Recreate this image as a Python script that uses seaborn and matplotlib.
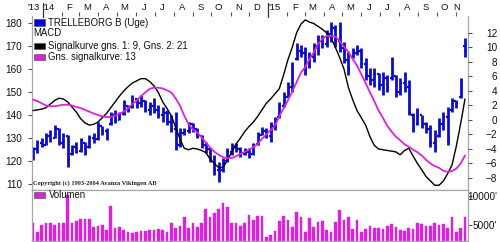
import numpy as np
import pandas as pd
import matplotlib
matplotlib.use("Agg")
import matplotlib.pyplot as plt
import matplotlib.transforms as mtrans
from matplotlib.patches import Rectangle
import seaborn as sns

sns.set_style("white")
plt.rcParams['font.family'] = ['Liberation Sans', 'DejaVu Sans']

# ---------------- data (weekly bars) ----------------
first_week = "2013-12-16"

highs = [126.1, 129.0, 130.0, 132.0, 133.5, 135.7, 134.3, 132.2, 131.3, 127.0,
         128.3, 130.0, 128.3, 131.3, 132.2, 137.0, 135.2, 134.3, 141.3, 142.2,
         141.3, 146.5, 144.3, 148.7, 147.4, 148.7, 146.5, 145.6, 147.4, 144.3,
         143.5, 142.2, 140.0, 141.3, 134.3, 134.3, 137.0, 136.5, 134.3, 131.3,
         128.3, 125.7, 122.6, 119.6, 121.3, 125.7, 127.8, 127.8, 126.1, 125.7,
         125.7, 127.8, 132.6, 134.8, 134.3, 137.0, 139.1, 145.6, 150.0, 154.3,
         163.0, 171.3, 170.4, 169.6, 167.4, 171.3, 174.8, 174.8, 177.0, 180.4,
         179.0, 180.4, 171.7, 167.4, 169.0, 170.4, 169.0, 164.8, 160.4, 160.4,
         158.3, 158.7, 157.4, 165.2, 157.4, 156.1, 158.7, 155.2, 140.9, 143.0,
         140.0, 137.0, 135.7, 133.5, 138.7, 141.3, 143.5, 147.4, 146.5, 156.0,
         173.5]
lows = [120.4, 123.5, 126.0, 127.0, 128.3, 130.0, 127.0, 125.7, 117.4, 122.6,
        123.5, 124.0, 122.6, 125.7, 127.8, 129.1, 131.3, 129.1, 135.7, 136.5,
        137.8, 140.0, 141.3, 143.0, 143.0, 143.5, 141.3, 140.0, 140.9, 138.7,
        137.0, 135.7, 132.6, 124.8, 126.0, 131.3, 132.2, 132.6, 130.0, 125.7,
        123.5, 119.6, 113.9, 110.9, 115.2, 119.6, 122.6, 123.9, 121.7, 122.6,
        121.3, 122.6, 127.0, 131.3, 130.0, 128.3, 133.5, 138.7, 143.5, 147.8,
        150.0, 164.0, 165.2, 157.4, 160.4, 163.0, 166.1, 169.1, 169.6, 171.7,
        169.6, 167.4, 162.6, 157.4, 164.8, 166.0, 160.4, 155.2, 153.0, 152.2,
        150.9, 148.7, 150.0, 155.2, 147.8, 148.7, 150.0, 140.0, 132.6, 135.7,
        134.3, 132.2, 126.0, 124.0, 130.4, 133.5, 127.0, 141.3, 143.0, 147.4,
        165.2]
opens = [121, 125, 128, 127, 131, 130, 134, 128, 131, 123,
         126, 124.5, 128, 126, 130, 129.5, 135, 133, 136, 140,
         138, 140.5, 144, 143.5, 147, 145, 146, 142, 144, 142,
         140, 141, 137, 134, 127, 132, 133, 136, 134, 131,
         127, 125, 121, 116, 116, 120, 124, 126, 125, 123,
         124, 123, 127.5, 131.5, 133, 131, 135, 139, 144, 148,
         152, 164.5, 168, 167, 161, 165, 170, 172, 171, 175,
         178, 172, 169, 164, 165, 167, 168, 162, 157, 155,
         158, 153, 156, 156, 157, 150, 154, 152, 140, 136,
         140, 136, 134, 128, 131, 136, 139, 142, 146, 148,
         170]
closes = [125, 128, 127, 131, 130, 134, 128, 131, 121, 126,
          124, 129, 124, 130, 129, 135, 133, 131, 140, 138,
          140, 145, 142, 147, 145, 147, 142, 144, 142, 140,
          141, 137, 134, 127, 132, 133, 136, 134, 131, 127,
          125, 121, 116, 114, 119, 124, 126, 125, 123, 124,
          122, 127, 131, 133, 131, 135, 138, 144, 148, 152,
          161, 168, 167, 160, 165, 170, 172, 171, 175, 178,
          172, 169, 164, 160, 167, 168, 162, 157, 155, 158,
          153, 156, 152, 158, 150, 154, 152, 141, 135, 140,
          136, 134, 128, 126, 136, 139, 130, 146, 145, 154,
          168]
macd = [1.3, 1.4, 1.5, 1.7, 2.2, 2.7, 3.0, 2.9, 2.5, 1.8,
        1.1, 0.2, -0.4, -0.7, -0.6, -0.3, 0.3, 0.9, 1.7, 2.5,
        3.3, 4.0, 4.6, 5.1, 5.4, 5.7, 5.7, 5.3, 4.7, 3.8,
        2.5, 1.6, 0.6, -1.0, -2.6, -3.9, -4.1, -3.9, -4.0, -4.2,
        -4.5, -5.4, -6.0, -6.6, -6.5, -5.6, -4.4, -3.3, -2.5, -1.6,
        -0.9, -0.3, 0.5, 1.4, 2.3, 2.9, 3.6, 4.3, 6.2, 8.3,
        10.0, 12.0, 13.2, 13.8, 13.5, 13.3, 12.9, 12.5, 12.0, 11.3,
        10.0, 8.6, 7.0, 4.5, 2.8, 1.3, 0.3, -0.7, -2.3, -3.5,
        -4.0, -4.1, -4.2, -4.3, -4.4, -4.8, -4.2, -3.9, -5.0, -6.0,
        -6.9, -7.8, -8.4, -9.0, -9.0, -8.4, -7.4, -6.2, -3.6, -0.5,
        2.9]
signal = [2.8, 2.6, 2.3, 2.0, 1.9, 1.9, 2.0, 2.1, 2.1, 2.0,
          1.8, 1.65, 1.4, 1.15, 0.9, 0.7, 0.5, 0.4, 0.45, 0.6,
          0.85, 1.15, 1.6, 2.2, 2.7, 3.3, 3.8, 4.3, 4.45, 4.45,
          4.35, 4.1, 3.8, 3.0, 2.0, 0.6, -0.6, -1.3, -1.7, -2.4,
          -3.1, -3.8, -4.4, -4.8, -5.15, -5.25, -5.25, -5.0, -4.7, -4.4,
          -4.1, -3.75, -3.3, -2.6, -2.0, -1.4, -0.8, 0.5, 1.6, 2.7,
          3.9, 5.2, 6.5, 7.3, 8.4, 9.3, 10.5, 11.2, 11.6, 11.6,
          11.5, 10.9, 10.1, 9.4, 8.4, 7.5, 6.3, 5.1, 3.8, 2.6,
          1.3, 0.3, -0.8, -1.6, -2.3, -2.8, -3.35, -3.7, -4.1, -4.45,
          -4.9, -5.5, -6.0, -6.35, -6.6, -7.0, -7.15, -7.05, -6.7, -6.0,
          -4.9]
volume = [5400, 3850, 5000, 5300, 5400, 5000, 5300, 5300, 10200, 5300,
          5700, 6000, 6000, 6000, 4700, 4800, 5000, 4100, 8300, 4400,
          4700, 4100, 3850, 3570, 3850, 4000, 4000, 4100, 4100, 4300,
          4140, 3850, 5290, 4430, 4830, 6330, 4430, 5290, 4710, 5290,
          7700, 6430, 7020, 7700, 8850, 8050, 5290, 5290, 4830, 5400,
          6720, 5860, 6550, 6550, 2980, 3280, 4020, 5740, 6550, 5860,
          4600, 7290, 6330, 3850, 6150, 4710, 5570, 5690, 4140, 3850,
          5570, 7590, 5860, 6330, 4260, 5860, 3850, 4260, 4830, 4430,
          4430, 4260, 4830, 5170, 4710, 4140, 4020, 4430, 4260, 5400,
          5170, 4830, 4830, 5290, 5000, 5170, 4430, 6330, 3850, 4430,
          6330]

month_labels = ["'13", "'14", "F", "M", "A", "M", "J", "J", "A", "S", "O", "N", "D",
                "'15", "F", "M", "A", "M", "J", "J", "A", "S", "O", "N"]
label_dates = ["2013-12-17", "2014-01-11", "2014-02-13", "2014-03-14", "2014-04-14",
               "2014-05-13", "2014-06-14", "2014-07-13", "2014-08-14", "2014-09-14",
               "2014-10-12", "2014-11-14", "2014-12-14", "2015-01-12", "2015-02-13",
               "2015-03-14", "2015-04-14", "2015-05-14", "2015-06-14", "2015-07-13",
               "2015-08-14", "2015-09-14", "2015-10-14", "2015-11-03"]
year_starts = ["2014-01-01", "2015-01-01"]
month_starts = [d for d in pd.date_range("2014-02-01", "2015-11-01", freq="MS")
                if d.month != 1]

legend_price = "TRELLEBORG B (Uge)"
legend_macd = "MACD"
legend_sig1 = "Signalkurve gns. 1: 9, Gns. 2: 21"
legend_sig2 = "Gns. signalkurve: 13"
legend_vol = "Volumen"
copyright_text = "Copyright (c) 1993-2004 Avanza Vikingen AB"

BLUE = "#0C0CCC"
MAGENTA = "#DD22DD"
GRID = "#A8A8A8"

weeks = np.arange(len(highs))
start = pd.Timestamp(first_week)
def pos(d):
    return (pd.Timestamp(d) - start).days / 7.0

df = pd.DataFrame({"week": weeks, "high": highs, "low": lows, "open": opens,
                   "close": closes, "macd": macd, "signal": signal, "volume": volume})

# ---------------- figure layout (pixels -> fractions) ----------------
W, H = 500, 242
fig = plt.figure(figsize=(5.0, 2.42), dpi=100)
fig.patch.set_facecolor("white")
def frac(x0, y0, x1, y1):
    return [x0 / W, 1 - y1 / H, (x1 - x0) / W, (y1 - y0) / H]

ax = fig.add_axes(frac(32, 16, 468, 190))
axv = fig.add_axes(frac(32, 190, 468, 241))

x_lo, x_hi = -0.25, 100.7

# ---------------- price OHLC ----------------
tw = 0.45
ax.vlines(df["week"], df["low"], df["high"], color=BLUE, lw=2.0)
ax.hlines(df["open"], df["week"] - tw, df["week"], color=BLUE, lw=1.6)
ax.hlines(df["close"], df["week"], df["week"] + tw, color=BLUE, lw=1.6)
ax.set_ylim(107.39, 183.04)
ax.set_yticks([110, 120, 130, 140, 150, 160, 170, 180])
ax.set_xlim(x_lo, x_hi)
ax.tick_params(axis='y', which='major', left=True, right=False, length=3, width=0.8,
               color="#555555", labelsize=7.2, pad=4, labelcolor="#111111")

# top month axis
ax.xaxis.set_ticks_position('top')
ax.set_xticks([pos(d) for d in month_starts], labels=[""] * len(month_starts))
ax.set_xticks([pos(d) for d in label_dates], labels=month_labels, minor=True)
ax.tick_params(axis='x', which='major', top=True, bottom=False, length=3, width=0.8,
               color="#555555", direction='out')
ax.tick_params(axis='x', which='minor', top=True, bottom=False, length=0,
               labelsize=6.8, pad=3, labelcolor="#111111")
trans = mtrans.blended_transform_factory(ax.transData, ax.transAxes)
for d in year_starts:
    ax.plot([pos(d), pos(d)], [1 + 13 / 174, 1 - 1 / 174], color="#333333", lw=0.9,
            transform=trans, clip_on=False)

for side in ["left", "right", "bottom"]:
    ax.spines[side].set_color(GRID)
    ax.spines[side].set_linewidth(0.9)
ax.spines["top"].set_visible(False)

# ---------------- MACD ----------------
ax2 = ax.twinx()
sns.lineplot(data=df, x="week", y="macd", ax=ax2, color="black", lw=1.0)
sns.lineplot(data=df, x="week", y="signal", ax=ax2, color=MAGENTA, lw=1.3)
ax2.set_ylim(-9.655, 14.34)
ax2.set_xlim(x_lo, x_hi)
ax2.set_yticks(list(range(-8, 13, 2)))
ax2.set_ylabel("")
ax2.set_xlabel("")
ax2.tick_params(axis='y', right=True, left=False, length=3, width=0.8, color="#555555",
                labelsize=7.2, pad=18, labelcolor="#111111")
for lab in ax2.get_yticklabels():
    lab.set_horizontalalignment("right")
for side in ["left", "right", "bottom", "top"]:
    ax2.spines[side].set_visible(False)

# ---------------- volume ----------------
sns.barplot(data=df, x="week", y="volume", ax=axv, color=MAGENTA, native_scale=True,
            width=0.62, saturation=1, errorbar=None, edgecolor=MAGENTA, linewidth=0.3)
axv.set_xlim(x_lo, x_hi)
axv.set_ylim(2240, 11030)
axv.set_xticks([])
axv.set_xlabel("")
axv.set_ylabel("")
axv.yaxis.tick_right()
axv.set_yticks([5000, 10000], labels=["5000'", "10000'"])
axv.tick_params(axis='y', right=True, left=False, length=3, width=0.8, color="#555555",
                labelsize=7.2, pad=18, labelcolor="#111111")
for lab in axv.get_yticklabels():
    lab.set_horizontalalignment("right")
for side in ["left", "right", "bottom", "top"]:
    axv.spines[side].set_color(GRID)
    axv.spines[side].set_linewidth(0.9)

# ---------------- legend / texts ----------------
def px_rect(x0, y0, x1, y1, color):
    r = Rectangle((x0 / W, 1 - y1 / H), (x1 - x0) / W, (y1 - y0) / H,
                  transform=fig.transFigure, facecolor=color, edgecolor="#444444",
                  lw=0.4, zorder=10)
    fig.add_artist(r)

def px_text(x, y, s, **kw):
    fig.text(x / W, 1 - y / H, s, va="center", ha="left", zorder=11, **kw)

px_rect(34, 19, 45, 26, "#0000DD")
px_text(48.5, 22.5, legend_price, fontsize=6.9, color="#111111")
px_text(33, 33.5, legend_macd, fontsize=6.9, color="#111111")
px_rect(34, 43, 45, 49, "black")
px_text(48.5, 46, legend_sig1, fontsize=6.9, color="#111111")
px_rect(34, 54, 45, 60, MAGENTA)
px_text(48.5, 57, legend_sig2, fontsize=6.9, color="#111111")
px_text(33, 183, copyright_text, fontsize=4.6, color="#222222",
        family=["Liberation Serif", "DejaVu Serif"], fontweight="bold")
px_rect(34, 192, 45, 198, MAGENTA)
px_text(48.5, 195, legend_vol, fontsize=6.9, color="#111111")

fig.savefig("out.png", dpi=100, facecolor="white")
